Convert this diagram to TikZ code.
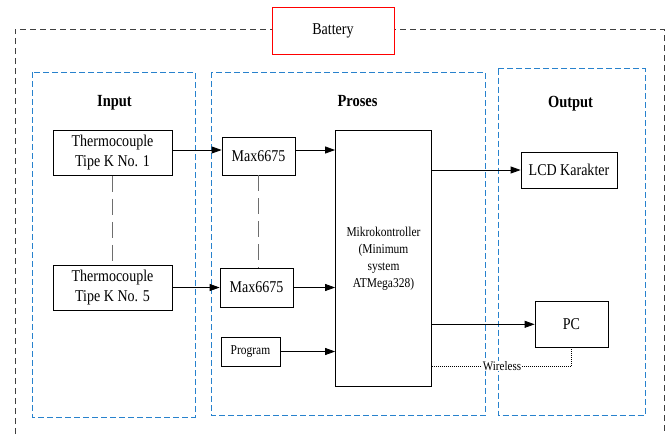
\documentclass[tikz,border=0pt]{standalone}
\usepackage{fontspec}
\setmainfont[FakeStretch=0.85]{Liberation Serif}
\usetikzlibrary{arrows.meta,calc}
\definecolor{grpblue}{RGB}{40,130,205}
\definecolor{dashgray}{RGB}{110,110,110}
\begin{document}
\begin{tikzpicture}[x=1pt,y=-1pt,
 blk/.style={draw, line width=0.8pt, inner sep=0pt, align=center, font=\fontsize{16.5}{20}\selectfont},
 grp/.style={draw=grpblue, line width=0.9pt, dash pattern=on 6pt off 3pt},
 arr/.style={line width=0.8pt, -{Triangle[length=10pt,width=7pt]}},
 lnk/.style={draw=dashgray, line width=0.9pt, dash pattern=on 16pt off 7pt},
 ttl/.style={font=\fontsize{17}{18}\selectfont\bfseries}]
\useasboundingbox (0,0) rectangle (666,434);
\fill[white] (0,0) rectangle (666,434);
% outer battery-powered boundary
\draw[black!75, line width=0.8pt, dash pattern=on 6pt off 4pt] (15,434) -- (15,29) -- (664,29) -- (664,434);
\node[draw=red, line width=0.8pt, fill=white, minimum width=122pt, minimum height=47pt, inner sep=0pt, font=\fontsize{16.5}{18}\selectfont] (bat) at (333,30.5) {Battery};
% groups
\draw[grp] (32,72) rectangle (195,417);
\draw[grp] (211.5,72) rectangle (485,415.5);
\draw[grp] (498,68.5) rectangle (645,415);
\node[ttl] (tin) at (114.5,103) {Input};
\node[ttl] (tpr) at (357.5,101) {Proses};
\node[ttl] (tout) at (570.5,104) {Output};
% blocks
\node[blk, minimum width=119pt, minimum height=45pt] (t1) at (112.5,153) {Thermocouple\\Tipe K No. 1};
\node[blk, minimum width=119pt, minimum height=45pt] (t5) at (112.5,288) {Thermocouple\\Tipe K No. 5};
\node[blk, minimum width=73pt, minimum height=38pt] (m1) at (258.5,156) {Max6675};
\node[blk, minimum width=73pt, minimum height=39pt] (m5) at (256.5,287.5) {Max6675};
\node[blk, minimum width=59pt, minimum height=29pt, font=\fontsize{13.5}{15}\selectfont] (prog) at (250.5,351.5) {Program};
\node[blk, minimum width=96pt, minimum height=256pt, font=\fontsize{13.5}{17}\selectfont] (mcu) at (383.5,258.5) {Mikrokontroller\\(Minimum\\system\\ATMega328)};
\node[blk, minimum width=96pt, minimum height=36pt] (lcd) at (569,170) {LCD Karakter};
\node[blk, minimum width=73pt, minimum height=46pt] (pc) at (571.5,324.3) {PC};
% rows
\coordinate (ya) at (0,150);
\coordinate (yb) at (0,287.5);
\coordinate (yc) at (0,351.5);
\coordinate (yd) at (0,170);
\coordinate (ye) at (0,324.3);
\coordinate (yw) at (0,366);
% connectors
\draw[arr] (t1.east |- ya) -- (m1.west |- ya);
\draw[arr] (m1.east |- ya) -- (mcu.west |- ya);
\draw[arr] (t5.east |- yb) -- (m5.west |- yb);
\draw[arr] (m5.east |- yb) -- (mcu.west |- yb);
\draw[arr] (prog.east |- yc) -- (mcu.west |- yc);
\draw[arr] (mcu.east |- yd) -- (lcd.west |- yd);
\draw[arr] (mcu.east |- ye) -- (pc.west |- ye);
\draw[line width=0.7pt, dash pattern=on 1pt off 1pt] (mcu.east |- yw) -- (pc.south |- yw) -- (pc.south);
\node[fill=white, inner sep=0.5pt, font=\fontsize{13}{15}\selectfont] (wl) at (502,366) {Wireless};
\draw[lnk] (t1.south) -- (t5.north);
\draw[lnk] (m1.south) -- (m1.south |- m5.north);
\end{tikzpicture}
\end{document}
